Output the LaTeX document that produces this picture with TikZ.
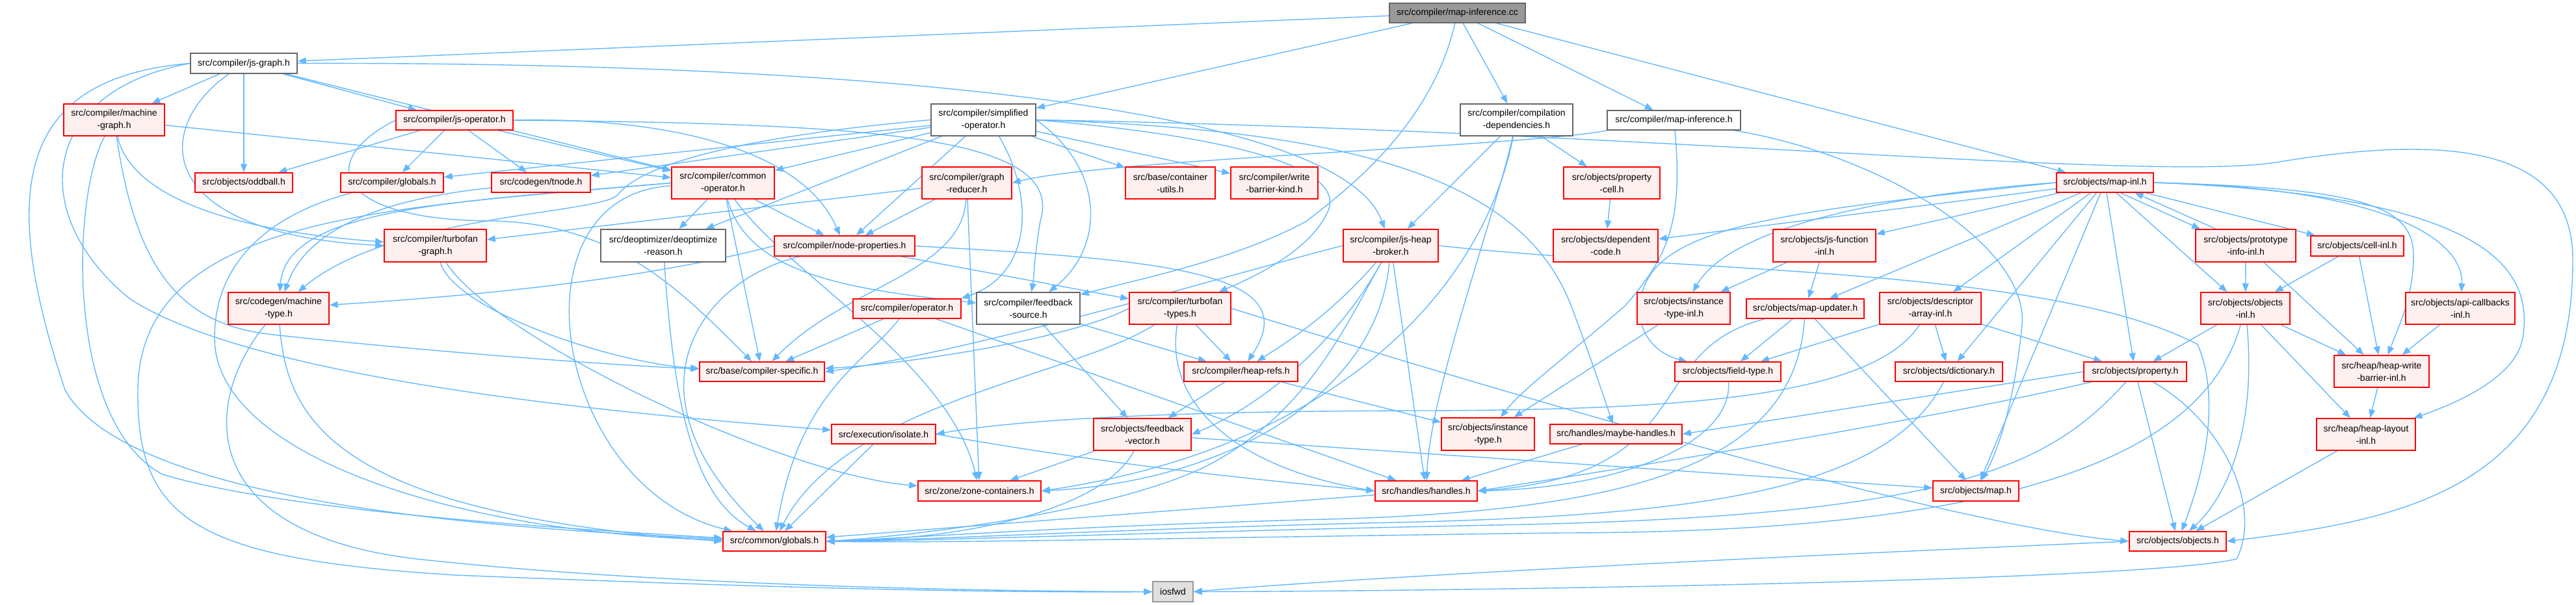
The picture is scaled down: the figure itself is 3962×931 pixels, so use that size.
\documentclass[tikz,border=0pt]{standalone}
\usepackage{fontspec}
\setmainfont{Liberation Sans}
\usetikzlibrary{arrows.meta}
\definecolor{edgec}{HTML}{63B8FF}
\definecolor{rfill}{HTML}{FFF0F0}
\definecolor{rline}{HTML}{FF0000}
\definecolor{gline}{HTML}{666666}
\definecolor{rootfill}{HTML}{999999}
\definecolor{extfill}{HTML}{E0E0E0}
\definecolor{extline}{HTML}{999999}
\pgfdeclarelayer{edgelayer}
\pgfsetlayers{edgelayer,main}
\newcommand\mknode[6]{\node[#1,minimum width=#4pt,minimum height=#5pt] (#2) at (#3) {#6};}
\begin{document}
\begin{tikzpicture}[x=1pt,y=-1pt,
 base/.style={inner sep=0pt, align=center, line width=1.5pt, font=\fontsize{14}{19}\selectfont},
 rn/.style={base, draw=rline, fill=rfill},
 wn/.style={base, draw=gline, fill=white},
 rootn/.style={base, draw=gline, fill=rootfill},
 xn/.style={base, draw=extline, fill=extfill},
 e/.style={draw=edgec, line width=1.4pt, -{Triangle[length=13pt,width=10pt]}}]
\useasboundingbox (0,0) rectangle (3962,931);
% ---------------- nodes ----------------
\mknode{rootn}{cc}{2241.5,20}{209}{30}{src/compiler/map-inference.cc}
\mknode{wn}{jsgraph}{375,97.5}{164}{31}{src/compiler/js-graph.h}
\mknode{rn}{machgraph}{175.5,184.5}{155}{49}{src/compiler/machine\\-graph.h}
\mknode{rn}{jsop}{699,185}{180}{30}{src/compiler/js-operator.h}
\mknode{wn}{simpop}{1512.5,184.5}{161}{49}{src/compiler/simplified\\-operator.h}
\mknode{wn}{compdep}{2332.5,184.5}{173}{49}{src/compiler/compilation\\-dependencies.h}
\mknode{wn}{mapinfh}{2574.5,185}{205}{30}{src/compiler/map-inference.h}
\mknode{rn}{mapinl}{3237.5,281}{149}{30}{src/objects/map-inl.h}
\mknode{rn}{oddball}{375,281}{150}{30}{src/objects/oddball.h}
\mknode{rn}{cglobals}{603,281}{158}{30}{src/compiler/globals.h}
\mknode{rn}{tnode}{832,281}{152}{30}{src/codegen/tnode.h}
\mknode{rn}{commonop}{1112,281.5}{158}{49}{src/compiler/common\\-operator.h}
\mknode{rn}{graphred}{1487,281.5}{138}{49}{src/compiler/graph\\-reducer.h}
\mknode{rn}{contutils}{1800,281.5}{138}{49}{src/base/container\\-utils.h}
\mknode{rn}{wbkind}{1960,281.5}{134}{49}{src/compiler/write\\-barrier-kind.h}
\mknode{rn}{propcell}{2479,281.5}{148}{49}{src/objects/property\\-cell.h}
\mknode{rn}{tfgraph}{669.5,378}{157}{50}{src/compiler/turbofan\\-graph.h}
\mknode{wn}{deopt}{1020,378}{192}{50}{src/deoptimizer/deoptimize\\-reason.h}
\mknode{rn}{nodeprops}{1299,378.5}{216}{31}{src/compiler/node-properties.h}
\mknode{rn}{jsheap}{2139,378}{146}{50}{src/compiler/js-heap\\-broker.h}
\mknode{rn}{depcode}{2469.5,378}{161}{50}{src/objects/dependent\\-code.h}
\mknode{rn}{jsfunc}{2806,378}{158}{50}{src/objects/js-function\\-inl.h}
\mknode{rn}{protoinfo}{3454,378}{154}{50}{src/objects/prototype\\-info-inl.h}
\mknode{rn}{cellinl}{3625.5,378.5}{143}{31}{src/objects/cell-inl.h}
\mknode{rn}{machtype}{428.5,474.5}{155}{49}{src/codegen/machine\\-type.h}
\mknode{rn}{operator}{1395,475}{166}{30}{src/compiler/operator.h}
\mknode{wn}{fbsource}{1581.5,474.5}{159}{49}{src/compiler/feedback\\-source.h}
\mknode{rn}{tftypes}{1815,474.5}{156}{49}{src/compiler/turbofan\\-types.h}
\mknode{rn}{insttypeinl}{2589.5,474.5}{143}{49}{src/objects/instance\\-type-inl.h}
\mknode{rn}{mapupd}{2776.5,475}{181}{30}{src/objects/map-updater.h}
\mknode{rn}{descarr}{2969,474.5}{156}{49}{src/objects/descriptor\\-array-inl.h}
\mknode{rn}{objinl}{3453.5,474.5}{137}{49}{src/objects/objects\\-inl.h}
\mknode{rn}{apicb}{3784,474.5}{168}{49}{src/objects/api-callbacks\\-inl.h}
\mknode{rn}{compspec}{1172,572}{192}{30}{src/base/compiler-specific.h}
\mknode{rn}{heaprefs}{1908.5,572}{175}{30}{src/compiler/heap-refs.h}
\mknode{rn}{fieldtype}{2657.5,572}{163}{30}{src/objects/field-type.h}
\mknode{rn}{dict}{2997.5,572}{165}{30}{src/objects/dictionary.h}
\mknode{rn}{property}{3284,572}{158}{30}{src/objects/property.h}
\mknode{rn}{hwb}{3663,571.5}{146}{49}{src/heap/heap-write\\-barrier-inl.h}
\mknode{rn}{isolate}{1359,668}{160}{30}{src/execution/isolate.h}
\mknode{rn}{fbvector}{1757,668.5}{150}{49}{src/objects/feedback\\-vector.h}
\mknode{rn}{insttype}{2288.5,668}{143}{50}{src/objects/instance\\-type.h}
\mknode{rn}{maybeh}{2485.5,668}{203}{30}{src/handles/maybe-handles.h}
\mknode{rn}{heaplayout}{3639,668.5}{152}{49}{src/heap/heap-layout\\-inl.h}
\mknode{rn}{zone}{1506.5,755.5}{189}{31}{src/zone/zone-containers.h}
\mknode{rn}{handles}{2193.5,755.5}{157}{31}{src/handles/handles.h}
\mknode{rn}{map}{3039,755.5}{132}{31}{src/objects/map.h}
\mknode{rn}{globals}{1191,833}{158}{30}{src/common/globals.h}
\mknode{rn}{objects}{3349.5,833}{149}{30}{src/objects/objects.h}
\mknode{xn}{iosfwd}{1804,910.5}{62}{31}{iosfwd}
% ---------------- edges ----------------
\begin{pgfonlayer}{edgelayer}
% root
\draw[e] (cc) -- (jsgraph);
\draw[e] (cc) -- (simpop);
\draw[e] (cc) .. controls (2200,200) and (2060,300) .. (2010,340) .. controls (1900,400) and (1750,430) .. (fbsource);
\draw[e] (cc) -- (compdep);
\draw[e] (cc) -- (mapinfh);
\draw[e] (cc) -- (mapinl);
% js-graph
\draw[e] (jsgraph) -- (machgraph);
\draw[e] (jsgraph) -- (oddball);
\draw[e] (jsgraph) -- (jsop);
\draw[e] (jsgraph) -- (commonop);
\draw[e] (jsgraph) .. controls (230,200) and (240,360) .. (tfgraph.west);
\draw[e] (jsgraph.west) .. controls (20,120) and (0,300) .. (100,600) .. controls (200,780) and (800,815) .. (globals);
\draw[e] (jsgraph.west) .. controls (60,140) and (40,330) .. (200,460) .. controls (400,590) and (1000,640) .. (isolate);
\draw[e] (jsgraph.east) .. controls (1300,95) and (2060,160) .. (jsheap);
% machine-graph
\draw[e] (machgraph) -- (commonop);
\draw[e] (machgraph) .. controls (200,300) and (350,355) .. (tfgraph);
\draw[e] (machgraph) .. controls (110,300) and (100,650) .. (250,730) .. controls (450,790) and (900,815) .. (globals);
\draw[e] (machgraph) .. controls (210,420) and (280,500) .. (420,515) .. controls (600,535) and (900,560) .. (compspec);
% js-operator
\draw[e] (jsop) -- (oddball);
\draw[e] (jsop) -- (cglobals);
\draw[e] (jsop) -- (tnode);
\draw[e] (jsop) -- (commonop);
\draw[e] (jsop.east) .. controls (1000,180) and (1230,220) .. (nodeprops);
\draw[e] (jsop.east) .. controls (1350,190) and (1640,210) .. (1600,340) .. controls (1590,400) and (1590,430) .. (fbsource);
\draw[e] (jsop.west) .. controls (480,250) and (520,340) .. (760,340) .. controls (950,345) and (1050,450) .. (compspec);
% compiler/globals, tnode
\draw[e] (cglobals) .. controls (450,320) and (330,380) .. (330,520) .. controls (330,700) and (700,820) .. (globals);
\draw[e] (tnode) .. controls (650,300) and (480,330) .. (machtype);
% turbofan-graph, deoptimize-reason
\draw[e] (tfgraph) .. controls (700,480) and (950,560) .. (compspec);
\draw[e] (tfgraph) .. controls (760,520) and (1200,730) .. (zone);
\draw[e] (deopt) .. controls (1035,600) and (1060,760) .. (globals);
% common-operator
\draw[e] (commonop) -- (deopt);
\draw[e] (commonop) -- (nodeprops);
\draw[e] (commonop) .. controls (1150,420) and (1300,445) .. (fbsource);
\draw[e] (commonop.west) .. controls (700,310) and (440,320) .. (machtype);
\draw[e] (commonop) -- (compspec);
\draw[e] (commonop) .. controls (780,300) and (850,750) .. (globals);
\draw[e] (commonop) .. controls (1210,420) and (1460,560) .. (zone);
\draw[e] (commonop.west) .. controls (600,320) and (215,330) .. (212,600) .. controls (210,800) and (300,860) .. (700,885) .. controls (1200,905) and (1500,912) .. (iosfwd);
% graph-reducer
\draw[e] (graphred) -- (tfgraph);
\draw[e] (graphred) -- (nodeprops);
\draw[e] (graphred) .. controls (1480,420) and (1300,440) .. (compspec);
\draw[e] (graphred) -- (zone);
% node-properties
\draw[e] (nodeprops.west) .. controls (950,440) and (650,460) .. (machtype);
\draw[e] (nodeprops) .. controls (1080,430) and (950,600) .. (globals);
\draw[e] (nodeprops) -- (tftypes);
\draw[e] (nodeprops.east) .. controls (1800,400) and (2010,420) .. (heaprefs);
% feedback-source
\draw[e] (fbsource) -- (heaprefs);
\draw[e] (fbsource) -- (fbvector);
% turbofan-types
\draw[e] (tftypes.west) .. controls (1650,520) and (1400,560) .. (compspec);
\draw[e] (tftypes) -- (heaprefs);
\draw[e] (tftypes) .. controls (1790,620) and (1900,720) .. (handles.west);
\draw[e] (tftypes) .. controls (1650,580) and (1300,620) .. (globals);
\draw[e] (tftypes.east) .. controls (2300,600) and (3000,810) .. (objects.west);
% operator
\draw[e] (operator) -- (compspec);
\draw[e] (operator) .. controls (1330,560) and (1230,600) .. (globals);
\draw[e] (operator) -- (handles);
% heap-refs, isolate, feedback-vector
\draw[e] (heaprefs) -- (fbvector);
\draw[e] (heaprefs) -- (insttype);
\draw[e] (isolate) -- (globals);
\draw[e] (isolate.east) .. controls (1700,715) and (1950,740) .. (handles.west);
\draw[e] (fbvector) -- (zone);
\draw[e] (fbvector) .. controls (1700,780) and (1500,830) .. (globals.east);
\draw[e] (fbvector) -- (map);
% handles etc.
\draw[e] (handles) -- (globals);
\draw[e] (maybeh) -- (handles);
\draw[e] (insttypeinl) -- (insttype);
% map-updater
\draw[e] (mapupd) -- (fieldtype);
\draw[e] (mapupd) .. controls (2520,540) and (2620,730) .. (handles.east);
\draw[e] (mapupd) -- (map);
\draw[e] (mapupd) .. controls (2760,720) and (2500,790) .. (2000,800) .. controls (1600,812) and (1400,828) .. (globals.east);
% descriptor-array-inl
\draw[e] (descarr) -- (fieldtype);
\draw[e] (descarr) -- (dict);
\draw[e] (descarr) -- (property);
\draw[e] (descarr) .. controls (2880,610) and (2600,630) .. (2200,632) .. controls (1900,632) and (1600,640) .. (isolate.east);
% field-type, dictionary
\draw[e] (fieldtype) .. controls (2665,680) and (2500,750) .. (handles.east);
\draw[e] (dict) .. controls (2900,760) and (2600,795) .. (2100,805) .. controls (1700,815) and (1450,830) .. (globals.east);
% property
\draw[e] (property.west) -- (maybeh.east);
\draw[e] (property) .. controls (2950,650) and (2500,720) .. (handles.east);
\draw[e] (property) -- (objects);
\draw[e] (property) .. controls (3150,720) and (3000,795) .. (2300,808) .. controls (1800,818) and (1450,832) .. (globals.east);
\draw[e] (property) .. controls (3420,650) and (3480,780) .. (3440,860) .. controls (3300,895) and (2200,910) .. (iosfwd.east);
% objects-inl
\draw[e] (objinl) -- (property);
\draw[e] (objinl) -- (hwb);
\draw[e] (objinl) -- (heaplayout);
\draw[e] (objinl) .. controls (3470,650) and (3430,760) .. (objects);
\draw[e] (objinl) .. controls (3400,660) and (3200,820) .. (2400,820) .. controls (1800,828) and (1450,836) .. (globals.east);
% heap
\draw[e] (hwb) -- (heaplayout);
\draw[e] (heaplayout) -- (objects);
\draw[e] (apicb) -- (hwb);
\draw[e] (cellinl) -- (objinl);
\draw[e] (cellinl) -- (hwb);
% prototype-info-inl
\draw[e] (protoinfo) -- (objinl);
\draw[e] (protoinfo) -- (hwb);
\draw[e] ([xshift=-46pt]protoinfo.north) -- ([xshift=46pt]mapinl.south);
% map-inl
\draw[e] ([xshift=24pt]mapinl.south) -- ([xshift=-70pt]protoinfo.north);
\draw[e] (mapinl) -- (cellinl);
\draw[e] (mapinl) -- (objinl);
\draw[e] (mapinl.east) .. controls (3700,290) and (3790,380) .. (apicb);
\draw[e] (mapinl.east) .. controls (3650,290) and (3715,320) .. (3712,400) .. controls (3710,460) and (3690,500) .. (hwb);
\draw[e] (mapinl.east) .. controls (3800,300) and (3900,400) .. (3880,520) .. controls (3870,580) and (3780,620) .. (heaplayout);
\draw[e] (mapinl) -- (property);
\draw[e] (mapinl) -- (map);
\draw[e] (mapinl) -- (dict);
\draw[e] (mapinl) -- (descarr);
\draw[e] (mapinl) -- (mapupd);
\draw[e] (mapinl) -- (jsfunc);
\draw[e] (mapinl) -- (depcode);
\draw[e] (mapinl.west) .. controls (2900,300) and (2660,350) .. (insttypeinl);
\draw[e] (mapinl.west) .. controls (2800,320) and (2600,340) .. (2540,420) .. controls (2500,480) and (2530,540) .. (fieldtype);
% js-function-inl
\draw[e] (jsfunc) -- (insttypeinl);
\draw[e] (jsfunc) -- (mapupd);
% objects.h
\draw[e] (objects.west) .. controls (3000,845) and (2200,880) .. (iosfwd.east);
% machine-type
\draw[e] (machtype) .. controls (440,650) and (520,790) .. (globals.west);
\draw[e] (machtype) .. controls (310,620) and (300,820) .. (640,860) .. controls (1000,900) and (1500,910) .. (iosfwd.west);
% compilation-dependencies
\draw[e] (compdep) -- (jsheap);
\draw[e] (compdep) -- (propcell);
\draw[e] (compdep) .. controls (2300,330) and (2200,600) .. (handles);
\draw[e] (compdep) .. controls (2280,450) and (2050,690) .. (zone.east);
\draw[e] (propcell) -- (depcode);
% map-inference.h
\draw[e] (mapinfh.south west) .. controls (2350,225) and (1700,245) .. (graphred.east);
\draw[e] (mapinfh) .. controls (2590,350) and (2560,400) .. (2500,470) .. controls (2420,540) and (2340,600) .. (insttype);
\draw[e] (mapinfh) .. controls (2900,240) and (3120,380) .. (3110,500) .. controls (3100,600) and (3080,680) .. (map);
% js-heap-broker
\draw[e] (jsheap.west) .. controls (1900,420) and (1500,540) .. (compspec.east);
\draw[e] (jsheap) .. controls (2070,500) and (2010,640) .. (1850,720) .. controls (1700,790) and (1400,825) .. (globals.east);
\draw[e] (jsheap) .. controls (2050,480) and (1990,520) .. (heaprefs);
\draw[e] (jsheap) -- (handles);
\draw[e] (jsheap) .. controls (2060,520) and (1950,620) .. (fbvector.east);
\draw[e] (jsheap) .. controls (2120,600) and (1900,740) .. (zone.east);
\draw[e] (jsheap.east) .. controls (2600,420) and (3150,410) .. (3380,530) .. controls (3410,600) and (3400,700) .. (objects);
% simplified-operator
\draw[e] (simpop) -- (commonop);
\draw[e] (simpop) -- (deopt);
\draw[e] (simpop) -- (nodeprops);
\draw[e] (simpop) -- (contutils);
\draw[e] (simpop) -- (wbkind);
\draw[e] (simpop) -- (cglobals);
\draw[e] (simpop) -- (tnode);
\draw[e] ([xshift=24pt]simpop.south) .. controls (1590,300) and (1590,420) .. (operator.north east);
\draw[e] (simpop.east) .. controls (1700,260) and (1700,380) .. (fbsource);
\draw[e] (simpop.east) .. controls (1900,210) and (2080,260) .. (2040,330) .. controls (2010,390) and (1920,430) .. (tftypes);
\draw[e] (simpop.west) .. controls (1250,200) and (1000,235) .. (950,300) .. controls (920,330) and (600,330) .. (machtype);
\draw[e] (simpop.east) .. controls (2100,200) and (2350,280) .. (2420,480) .. controls (2450,560) and (2470,620) .. (maybeh);
\draw[e] (simpop.east) .. controls (2500,200) and (3300,280) .. (3500,250) .. controls (3800,200) and (3957,240) .. (3957,400) .. controls (3957,750) and (3700,800) .. (objects.east);
\end{pgfonlayer}
\end{tikzpicture}
\end{document}
